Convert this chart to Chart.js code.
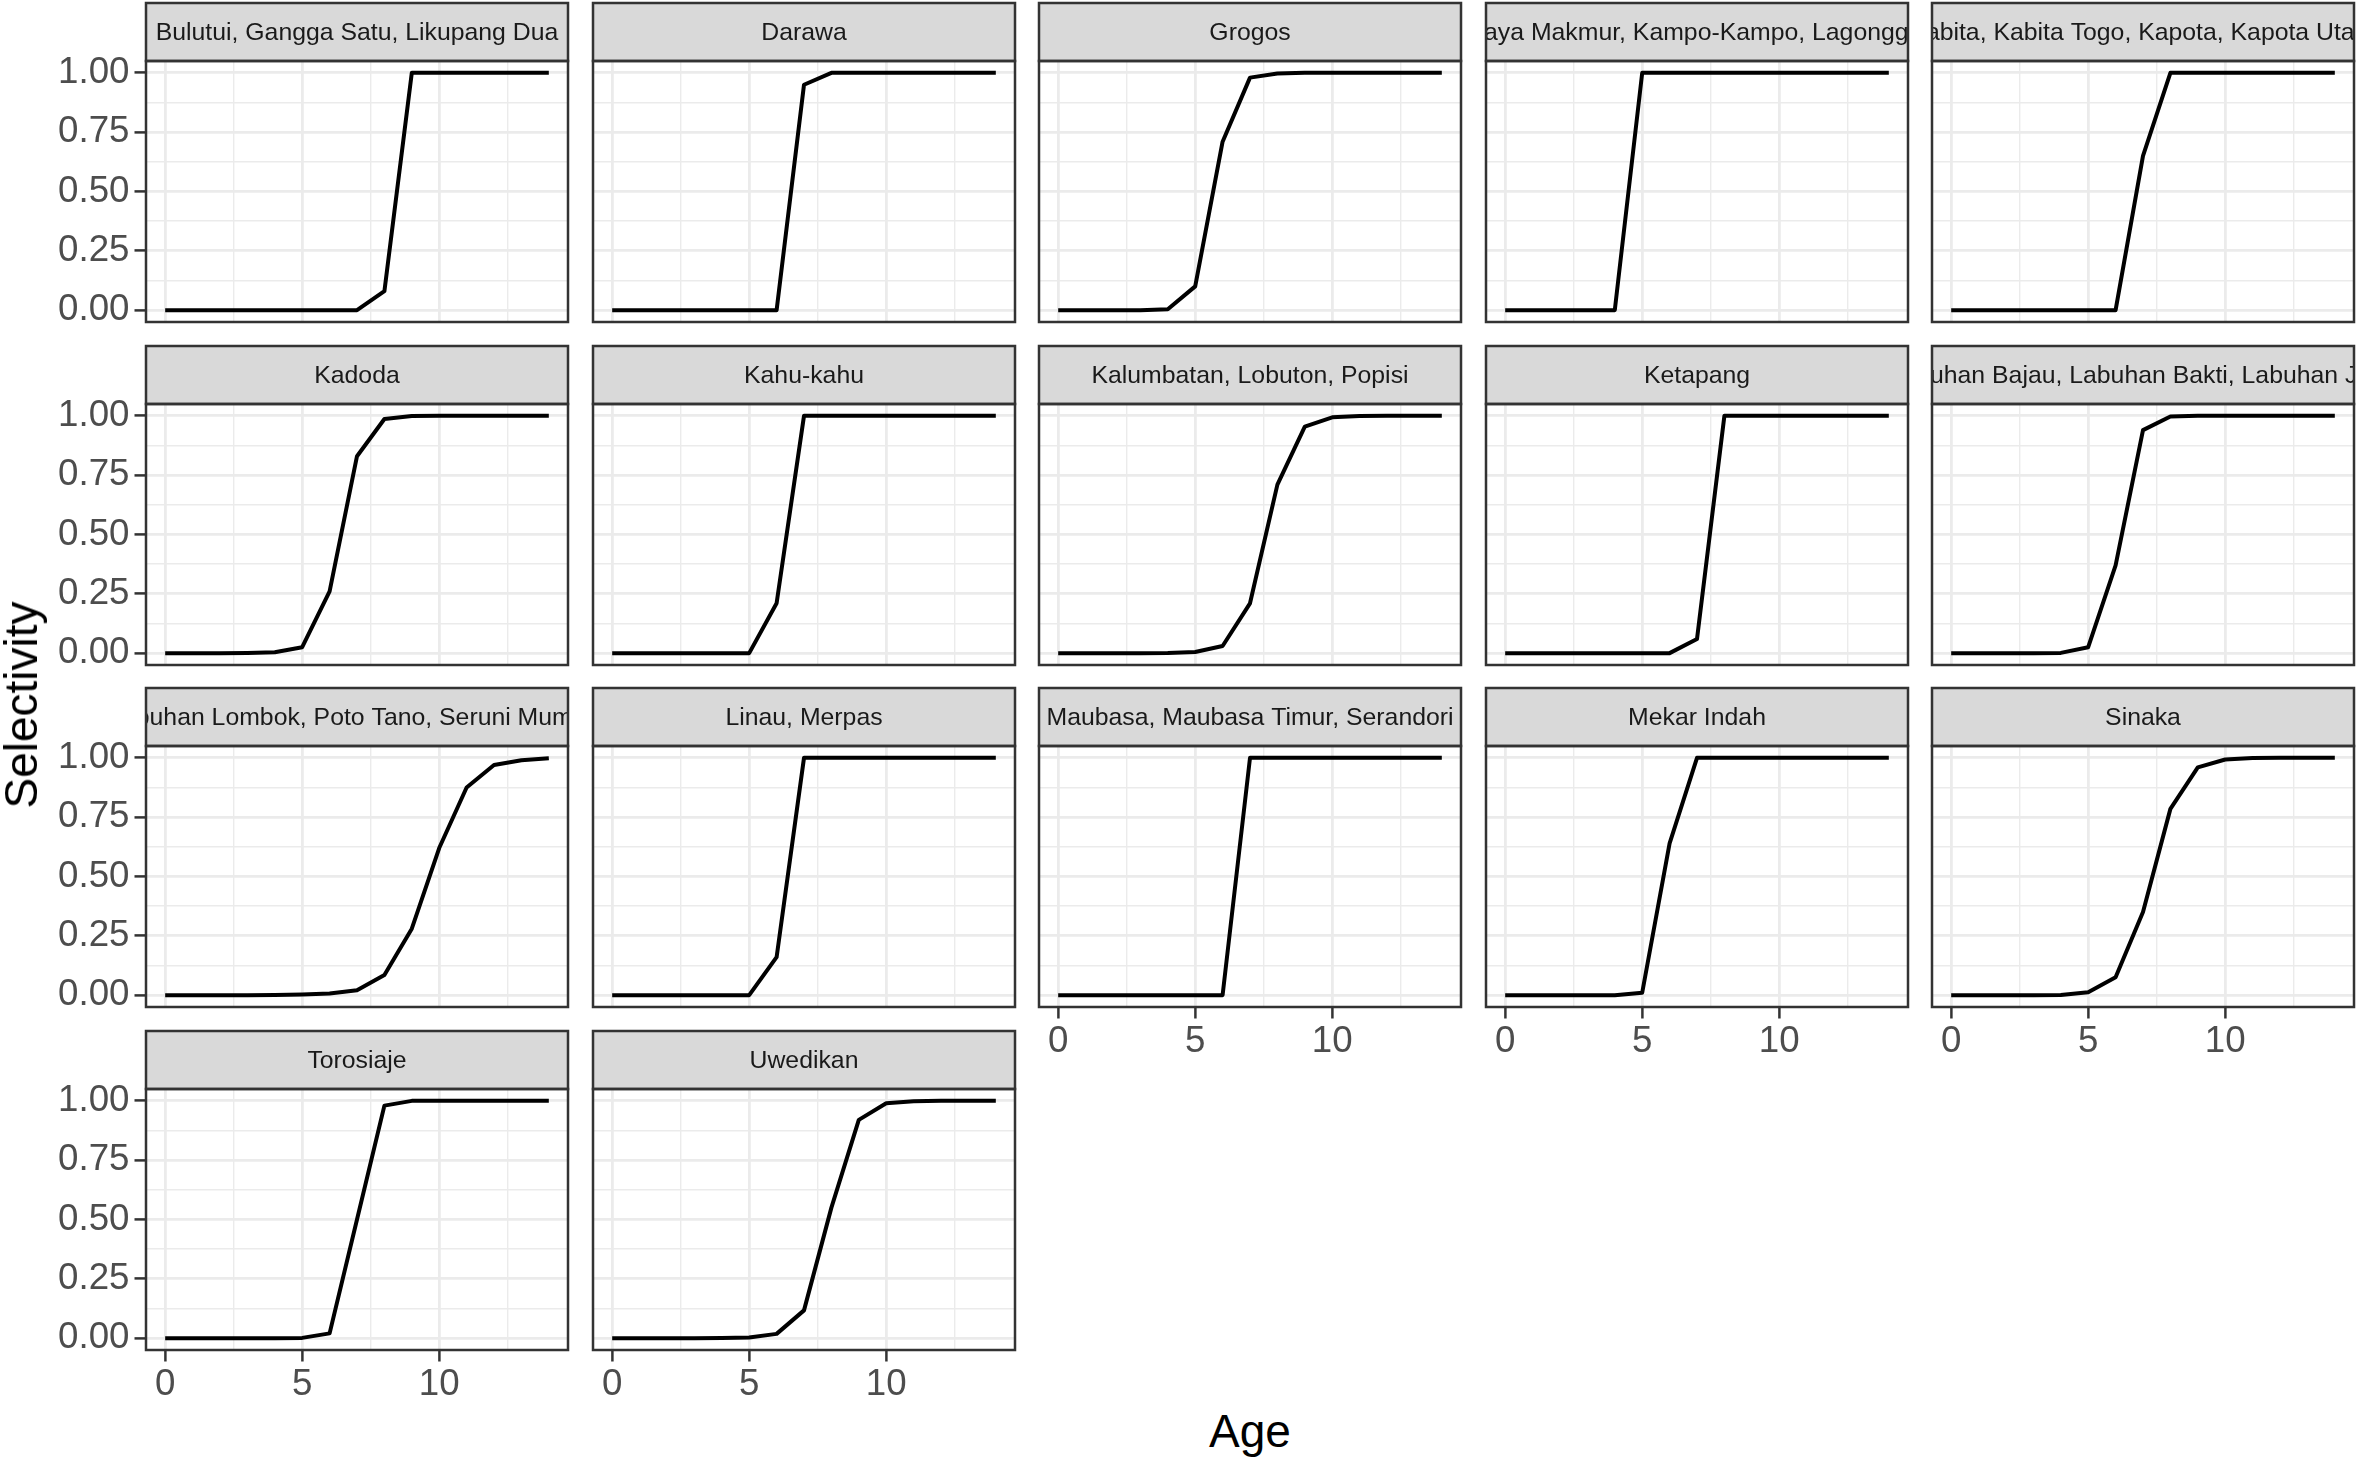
<!DOCTYPE html>
<html>
<head>
<meta charset="utf-8">
<script src="https://cdn.jsdelivr.net/npm/chart.js@4.4.1/dist/chart.umd.min.js"></script>
<style>
  html, body { margin: 0; padding: 0; background: #fff; overflow: hidden; }
  #wrap { position: relative; width: 2357px; height: 1457px; }
  #wrap canvas { position: absolute; }
  .axis-title { position: absolute; font-family: 'Liberation Sans', Arial, sans-serif; font-size: 46px;
                color: #000; white-space: nowrap; line-height: 1; }
</style>
</head>
<body>
<div id="wrap"></div>
<script>
const AGES = [0, 1, 2, 3, 4, 5, 6, 7, 8, 9, 10, 11, 12, 13, 14];

const PANEL_NAMES = [
  'Bulutui, Gangga Satu, Likupang Dua',
  'Darawa',
  'Grogos',
  'Jaya Makmur, Kampo-Kampo, Lagongga',
  'Kabita, Kabita Togo, Kapota, Kapota Utara',
  'Kadoda',
  'Kahu-kahu',
  'Kalumbatan, Lobuton, Popisi',
  'Ketapang',
  'Labuhan Bajau, Labuhan Bakti, Labuhan Jaya',
  'Labuhan Lombok, Poto Tano, Seruni Mumbul',
  'Linau, Merpas',
  'Maubasa, Maubasa Timur, Serandori',
  'Mekar Indah',
  'Sinaka',
  'Torosiaje',
  'Uwedikan'
];

// selectivity at age 0..14, one array per panel
const selBulutui    = [0, 0, 0, 0, 0, 0, 0, 0, 0.08, 1, 1, 1, 1, 1, 1];
const selDarawa     = [0, 0, 0, 0, 0, 0, 0, 0.95, 1, 1, 1, 1, 1, 1, 1];
const selGrogos     = [0, 0, 0, 0, 0.004, 0.10, 0.71, 0.98, 0.997, 1, 1, 1, 1, 1, 1];
const selJaya       = [0, 0, 0, 0, 0, 1, 1, 1, 1, 1, 1, 1, 1, 1, 1];
const selKabita     = [0, 0, 0, 0, 0, 0, 0, 0.65, 1, 1, 1, 1, 1, 1, 1];
const selKadoda     = [0, 0, 0, 0.001, 0.004, 0.025, 0.26, 0.83, 0.987, 0.999, 1, 1, 1, 1, 1];
const selKahu       = [0, 0, 0, 0, 0, 0, 0.21, 1, 1, 1, 1, 1, 1, 1, 1];
const selKalumbatan = [0, 0, 0, 0, 0.001, 0.005, 0.03, 0.21, 0.71, 0.955, 0.994, 0.999, 1, 1, 1];
const selKetapang   = [0, 0, 0, 0, 0, 0, 0, 0.06, 1, 1, 1, 1, 1, 1, 1];
const selLabBajau   = [0, 0, 0, 0, 0.001, 0.025, 0.37, 0.94, 0.997, 1, 1, 1, 1, 1, 1];
const selLabLombok  = [0, 0, 0, 0, 0.001, 0.003, 0.007, 0.021, 0.085, 0.28, 0.62, 0.875, 0.97, 0.99, 0.998];
const selLinau      = [0, 0, 0, 0, 0, 0, 0.16, 1, 1, 1, 1, 1, 1, 1, 1];
const selMaubasa    = [0, 0, 0, 0, 0, 0, 0, 1, 1, 1, 1, 1, 1, 1, 1];
const selMekar      = [0, 0, 0, 0, 0, 0.01, 0.64, 1, 1, 1, 1, 1, 1, 1, 1];
const selSinaka     = [0, 0, 0, 0, 0.001, 0.012, 0.075, 0.35, 0.785, 0.96, 0.993, 0.999, 1, 1, 1];
const selTorosiaje  = [0, 0, 0, 0, 0, 0.001, 0.02, 0.50, 0.98, 1, 1, 1, 1, 1, 1];
const selUwedikan   = [0, 0, 0, 0, 0.001, 0.003, 0.018, 0.117, 0.55, 0.92, 0.99, 0.998, 1, 1, 1];

const PANEL_VALUES = [
  selBulutui, selDarawa, selGrogos, selJaya, selKabita,
  selKadoda, selKahu, selKalumbatan, selKetapang, selLabBajau,
  selLabLombok, selLinau, selMaubasa, selMekar, selSinaka,
  selTorosiaje, selUwedikan
];

// grid positions: majors get labels, the rest are ggplot's minor lines
const X_TICKS = [0, 2.5, 5, 7.5, 10, 12.5];
const X_MAJOR = [0, 5, 10];
const Y_TICKS = [0, 0.125, 0.25, 0.375, 0.5, 0.625, 0.75, 0.875, 1];
const Y_MAJOR = [0, 0.25, 0.5, 0.75, 1];

const FONT = "'Liberation Sans', Arial, sans-serif";
const NCOL = 5;

// layout, px
const COL_LEFT0 = 146, COL_STEP = 446.5, PANEL_W = 422;
const ROW_TOP0 = 61, ROW_STEP = 342.7, PANEL_H = 261;
const STRIP_H = 58, Y_AXIS_W = 146, X_AXIS_H = 70, TOP_PAD = 4, RIGHT_PAD = 6;

const wrap = document.getElementById('wrap');

const gridColor = '#EBEBEB';
function isMajor(list, v) {
  return list.some(m => Math.abs(m - v) < 1e-9);
}

const panelFrame = {
  id: 'panelFrame',
  afterDraw(chart, args, opts) {
    const { ctx, chartArea: a } = chart;
    ctx.save();
    // strip
    const sy = a.top - STRIP_H;
    ctx.fillStyle = '#D9D9D9';
    ctx.fillRect(a.left, sy, a.right - a.left, STRIP_H);
    ctx.save();
    ctx.beginPath();
    ctx.rect(a.left + 1, sy + 1, a.right - a.left - 2, STRIP_H - 2);
    ctx.clip();
    ctx.fillStyle = '#1A1A1A';
    ctx.font = `24.8px ${FONT}`;
    ctx.textAlign = 'center';
    ctx.textBaseline = 'middle';
    ctx.fillText(opts.title, (a.left + a.right) / 2, sy + STRIP_H / 2 + 1);
    ctx.restore();
    ctx.strokeStyle = '#333333';
    ctx.lineWidth = 2.5;
    ctx.strokeRect(a.left, sy, a.right - a.left, STRIP_H);
    // panel border
    ctx.strokeRect(a.left, a.top, a.right - a.left, a.bottom - a.top);
    ctx.restore();
  }
};

PANEL_NAMES.forEach((name, i) => {
  const row = Math.floor(i / NCOL);
  const col = i % NCOL;
  const showY = col === 0;
  const showX = i + NCOL >= PANEL_NAMES.length;

  const canvas = document.createElement('canvas');
  const w = Y_AXIS_W + PANEL_W + RIGHT_PAD;
  const h = TOP_PAD + STRIP_H + PANEL_H + X_AXIS_H;
  canvas.width = w;
  canvas.height = h;
  canvas.style.width = w + 'px';
  canvas.style.height = h + 'px';
  canvas.style.left = Math.round(COL_LEFT0 + COL_STEP * col - Y_AXIS_W) + 'px';
  canvas.style.top = Math.round(ROW_TOP0 + ROW_STEP * row - STRIP_H - TOP_PAD) + 'px';
  wrap.appendChild(canvas);

  const values = PANEL_VALUES[i];

  new Chart(canvas, {
    type: 'line',
    data: {
      datasets: [{
        data: AGES.map((a, k) => ({ x: a, y: values[k] })),
        borderColor: '#000000',
        borderWidth: 4,
        pointRadius: 0,
        tension: 0,
        borderJoinStyle: 'round',
        borderCapStyle: 'butt',
        fill: false
      }]
    },
    options: {
      responsive: false,
      animation: false,
      devicePixelRatio: 1,
      events: [],
      layout: { padding: { left: 0, top: TOP_PAD + STRIP_H, right: RIGHT_PAD, bottom: 0 } },
      plugins: {
        legend: { display: false },
        tooltip: { enabled: false },
        panelFrame: { title: name }
      },
      scales: {
        x: {
          type: 'linear',
          min: -0.7,
          max: 14.7,
          afterBuildTicks: s => { s.ticks = X_TICKS.map(v => ({ value: v })); },
          afterFit: s => { s.height = X_AXIS_H; },
          border: { display: false },
          grid: {
            color: c => gridColor,
            lineWidth: c => isMajor(X_MAJOR, c.tick.value) ? 2.8 : 1.4,
            drawTicks: showX,
            tickLength: 11.5,
            tickWidth: 2.5,
            tickColor: c => isMajor(X_MAJOR, c.tick.value) ? '#333333' : 'rgba(0,0,0,0)'
          },
          ticks: {
            display: showX,
            autoSkip: false,
            maxRotation: 0,
            padding: 1,
            color: '#4D4D4D',
            font: { family: FONT, size: 36.7 },
            callback: v => isMajor(X_MAJOR, v) ? String(v) : ''
          }
        },
        y: {
          type: 'linear',
          min: -0.05,
          max: 1.05,
          afterBuildTicks: s => { s.ticks = Y_TICKS.map(v => ({ value: v })); },
          afterFit: s => { s.width = Y_AXIS_W; },
          border: { display: false },
          grid: {
            color: c => gridColor,
            lineWidth: c => isMajor(Y_MAJOR, c.tick.value) ? 2.8 : 1.4,
            drawTicks: showY,
            tickLength: 11.5,
            tickWidth: 2.5,
            tickColor: c => isMajor(Y_MAJOR, c.tick.value) ? '#333333' : 'rgba(0,0,0,0)'
          },
          ticks: {
            display: showY,
            autoSkip: false,
            padding: 5,
            color: '#4D4D4D',
            font: { family: FONT, size: 36.7 },
            callback: v => isMajor(Y_MAJOR, v) ? v.toFixed(2) : ''
          }
        }
      }
    },
    plugins: [panelFrame]
  });
});

// shared axis titles
const xTitle = document.createElement('div');
xTitle.className = 'axis-title';
xTitle.textContent = 'Age';
xTitle.style.left = ((COL_LEFT0 + COL_LEFT0 + COL_STEP * (NCOL - 1) + PANEL_W) / 2) + 'px';
xTitle.style.top = '1431px';
xTitle.style.transform = 'translate(-50%, -50%)';
wrap.appendChild(xTitle);

const yTitle = document.createElement('div');
yTitle.className = 'axis-title';
yTitle.textContent = 'Selectivity';
yTitle.style.left = '21px';
yTitle.style.top = '705px';
yTitle.style.transform = 'translate(-50%, -50%) rotate(-90deg)';
wrap.appendChild(yTitle);
</script>
</body>
</html>
